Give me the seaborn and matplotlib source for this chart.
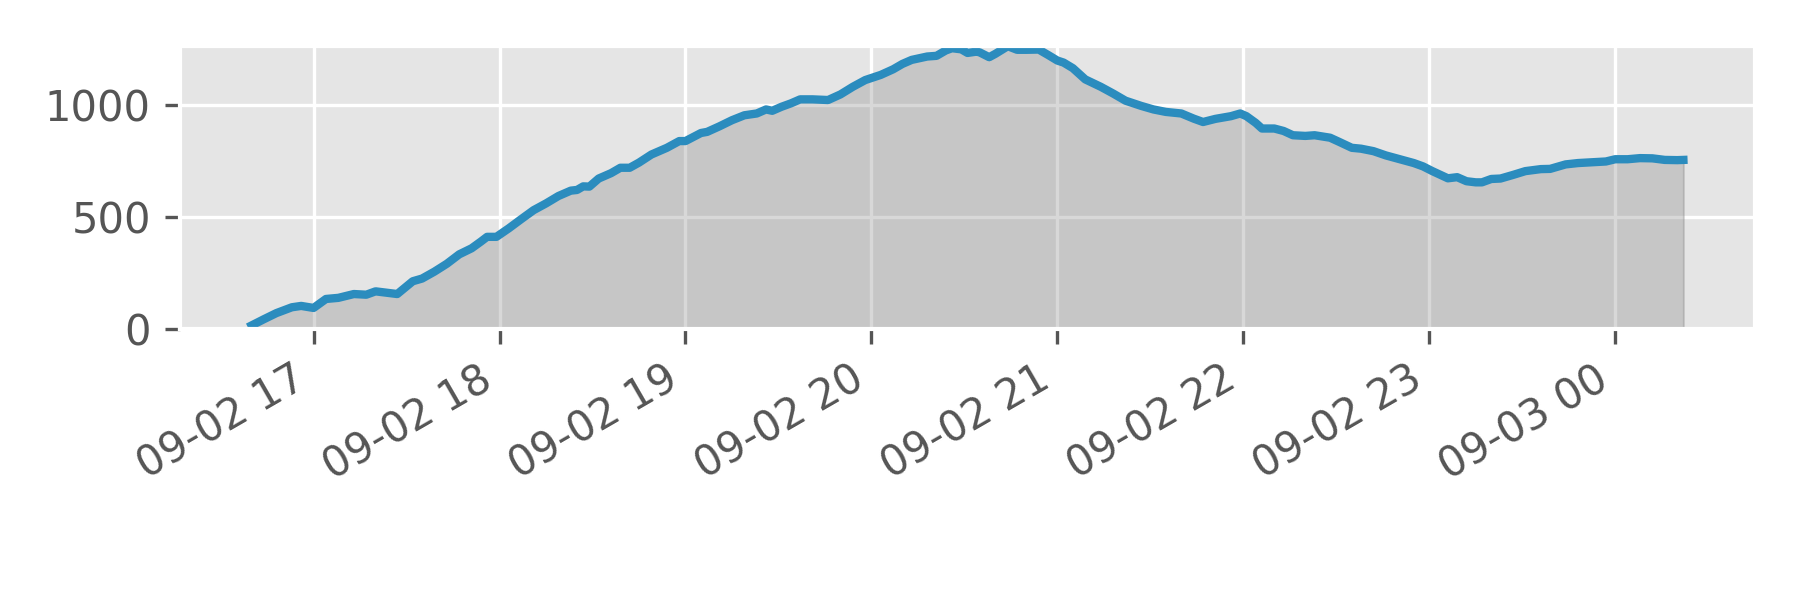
import pandas as pd
import matplotlib
matplotlib.use("Agg")
import matplotlib.pyplot as plt
import matplotlib.dates as mdates
import seaborn as sns

# readings, day 1 = 09-02, day 2 = 09-03
day1_times = ['16:40', '16:44', '16:48', '16:53', '16:56', '17:00', '17:04', '17:08', '17:13', '17:17',
              '17:20', '17:24', '17:27', '17:32', '17:35', '17:39', '17:43', '17:47', '17:51', '17:54',
              '17:56', '17:59', '18:03', '18:07', '18:11', '18:15', '18:19', '18:23', '18:25', '18:27',
              '18:29', '18:32', '18:36', '18:39', '18:42', '18:45', '18:49', '18:54', '18:58', '19:00',
              '19:05', '19:07', '19:11', '19:15', '19:19', '19:23', '19:26', '19:28', '19:31', '19:34',
              '19:37', '19:41', '19:46', '19:50', '19:54', '19:58', '20:03', '20:07', '20:10', '20:13',
              '20:18', '20:21', '20:24', '20:26', '20:29', '20:31', '20:34', '20:35', '20:38', '20:40',
              '20:44', '20:47', '20:50', '20:54', '20:57', '21:00', '21:02', '21:05', '21:09', '21:14',
              '21:18', '21:22', '21:27', '21:31', '21:35', '21:40', '21:44', '21:47', '21:51', '21:56',
              '21:59', '22:01', '22:04', '22:06', '22:10', '22:13', '22:16', '22:20', '22:23', '22:28',
              '22:31', '22:35', '22:38', '22:42', '22:46', '22:51', '22:55', '22:58', '23:01', '23:06',
              '23:09', '23:12', '23:15', '23:17', '23:20', '23:23', '23:27', '23:31', '23:36', '23:39',
              '23:44', '23:48', '23:53', '23:57']
day2_times = ['00:00', '00:04', '00:08', '00:12', '00:16', '00:20', '00:22']

values = [15, 43, 70, 96, 102, 93, 133, 138, 155, 152,
          167, 160, 155, 212, 224, 255, 290, 332, 359, 389,
          410, 410, 448, 489, 529, 559, 592, 616, 619, 635,
          634, 670, 694, 718, 718, 741, 777, 807, 837, 837,
          873, 878, 903, 930, 952, 960, 978, 972, 990, 1005,
          1023, 1023, 1020, 1045, 1079, 1109, 1132, 1157, 1181, 1199,
          1214, 1217, 1241, 1251, 1246, 1230, 1236, 1232, 1211, 1226,
          1260, 1244, 1244, 1245, 1221, 1196, 1187, 1162, 1112, 1079,
          1049, 1017, 994, 978, 967, 960, 937, 922, 936, 948,
          960, 948, 918, 893, 893, 882, 863, 860, 863, 852,
          833, 807, 803, 792, 773, 754, 739, 724, 703, 671,
          676, 658, 653, 653, 668, 670, 686, 703, 712, 713,
          733, 739, 743, 746,
          756, 756, 761, 760, 753, 752, 753]

times = pd.to_datetime(['2019-09-02 ' + t for t in day1_times] +
                       ['2019-09-03 ' + t for t in day2_times])
df = pd.DataFrame({'time': times, 'value': values})

plt.style.use('ggplot')
fig, ax = plt.subplots(figsize=(6, 2), dpi=300)

sns.lineplot(data=df, x='time', y='value', color='#2b8cbe', linewidth=2, ax=ax)
ax.fill_between(df['time'], df['value'], color='gray', alpha=0.3)

ax.set_ylim(0, df['value'].max())
ax.set_xlabel('')
ax.set_ylabel('')
ax.xaxis.set_major_locator(mdates.HourLocator())
ax.xaxis.set_major_formatter(mdates.DateFormatter('%m-%d %H'))
for lbl in ax.get_xticklabels():
    lbl.set_rotation(30)
    lbl.set_ha('right')

fig.subplots_adjust(left=0.100, right=0.975, top=0.923, bottom=0.452)
fig.savefig('out.png', dpi=300)
